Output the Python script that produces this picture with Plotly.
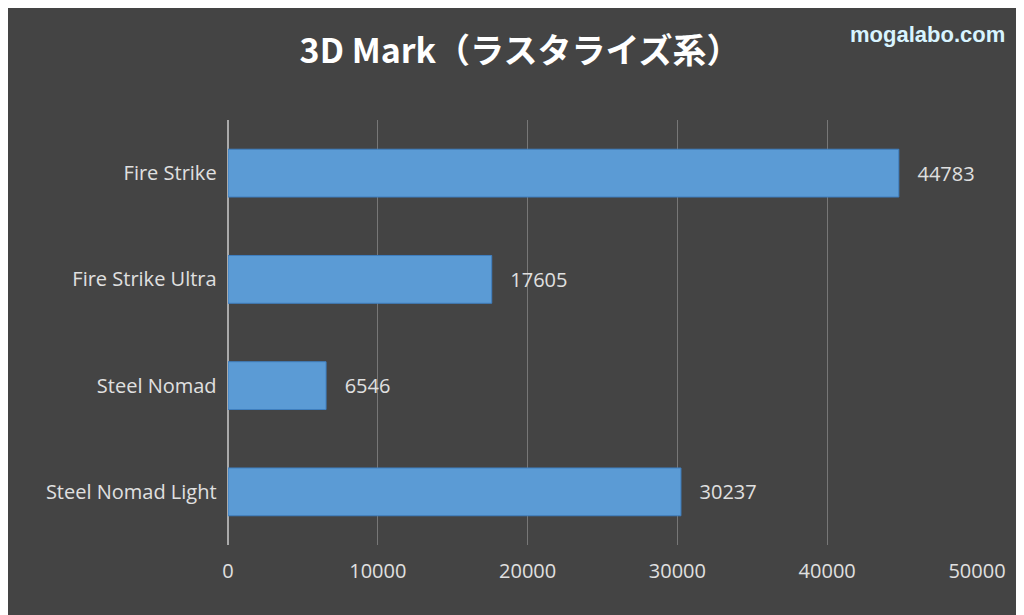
import plotly.graph_objects as go

categories = ["Fire Strike", "Fire Strike Ultra", "Steel Nomad", "Steel Nomad Light"]
scores = [44783, 17605, 6546, 30237]
tick_vals = [0, 10000, 20000, 30000, 40000, 50000]
tick_text = ["0", "10000", "20000", "30000", "40000", "50000"]

fig = go.Figure(go.Bar(
    y=categories, x=scores, orientation="h", width=0.45,
    marker=dict(color="#5b9bd5", line=dict(color="#3f7fc0", width=1)),
    text=["   " + str(v) for v in scores], textposition="outside",
    textfont=dict(color="#e0e0e0", size=20, family="Open Sans"),
    cliponaxis=False,
))
fig.update_layout(
    width=1024, height=615,
    paper_bgcolor="#444444", plot_bgcolor="rgba(0,0,0,0)",
    margin=dict(l=220, r=55, t=112, b=78),
    title=dict(text="<b>3D Mark（ラスタライズ系）</b>", x=0.5, xanchor="center", y=0.93, yanchor="middle",
               font=dict(color="white", size=34, family="Noto Sans CJK JP")),
    showlegend=False,
    font=dict(family="Open Sans", color="#e0e0e0", size=20),
)
fig.update_xaxes(range=[0, 50000], tickvals=tick_vals, ticktext=tick_text, showgrid=True, gridcolor="#777777",
                 zeroline=True, zerolinecolor="#aaaaaa", zerolinewidth=2, ticklen=8, ticks="outside",
                 tickcolor="rgba(0,0,0,0)", tickfont=dict(size=20, color="#e0e0e0"))
fig.update_yaxes(autorange="reversed", showgrid=False, ticksuffix="  ",
                 tickfont=dict(size=20, color="#e0e0e0"))
fig.add_annotation(text="<b>mogalabo.com</b>", xref="paper", yref="paper", x=1.04, y=1.235,
                   xanchor="right", yanchor="top", showarrow=False,
                   font=dict(size=22, color="#d8f4ff", family="Liberation Sans"))
fig.write_html("out.html")
